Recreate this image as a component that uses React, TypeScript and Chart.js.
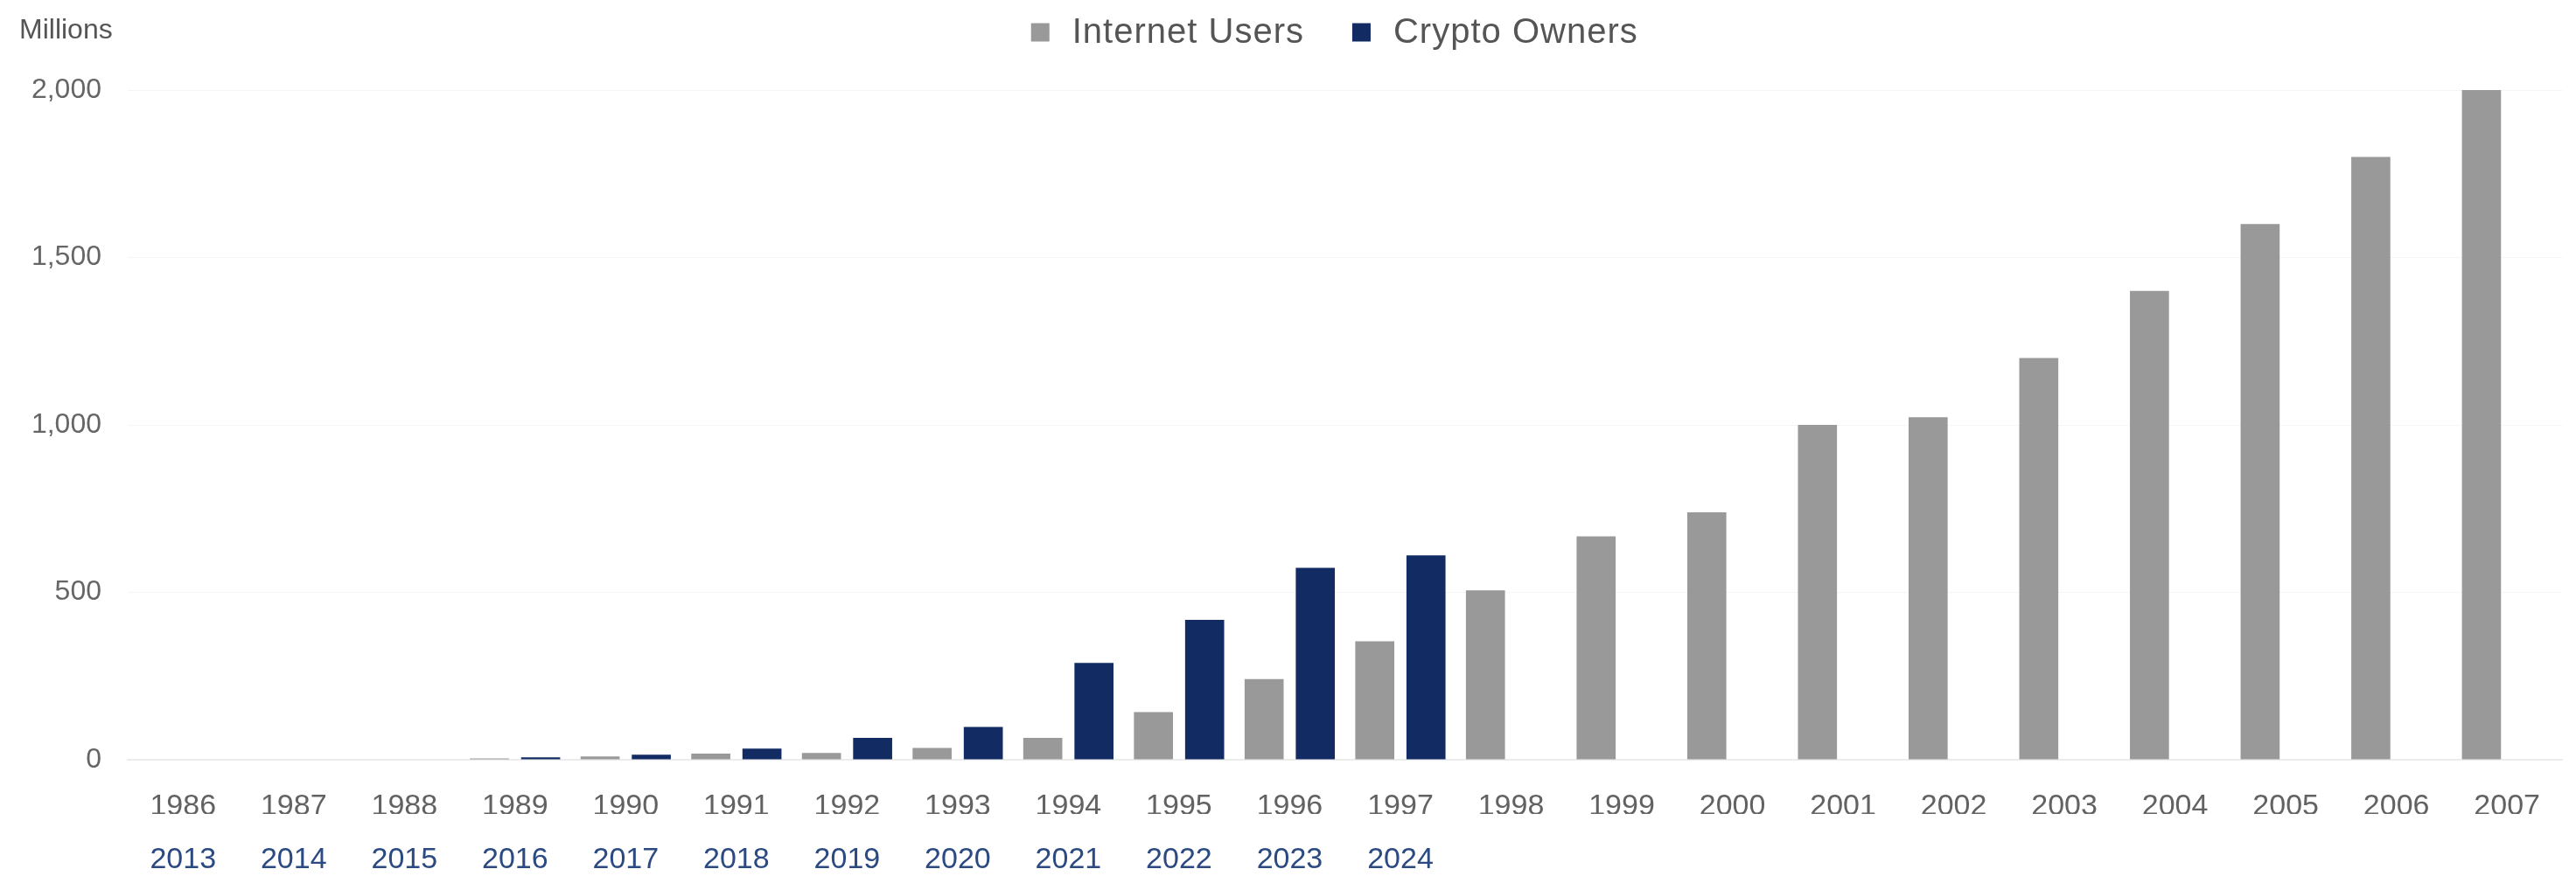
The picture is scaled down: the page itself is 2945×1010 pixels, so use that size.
import React, { useEffect, useRef } from "react";
import { Chart, registerables } from "chart.js";

Chart.register(...registerables);

const internetYears = [
  "1986", "1987", "1988", "1989", "1990", "1991", "1992", "1993", "1994", "1995", "1996",
  "1997", "1998", "1999", "2000", "2001", "2002", "2003", "2004", "2005", "2006", "2007",
];
const cryptoYears = [
  "2013", "2014", "2015", "2016", "2017", "2018", "2019", "2020", "2021", "2022", "2023",
  "2024", "", "", "", "", "", "", "", "", "", "",
];
const internetUsers = [
  0, 0, 1, 4, 10, 18, 20, 35, 65, 142, 241,
  354, 506, 667, 739, 1000, 1023, 1200, 1400, 1600, 1800, 2000,
];
const cryptoOwners = [
  0, 0, 1, 7, 15, 33, 65, 98, 289, 418, 573,
  610, null, null, null, null, null, null, null, null, null, null,
];
const seriesNames = ["Internet Users", "Crypto Owners"];
const yMax = 2000;
const yStep = 500;
const unitLabel = "Millions";

const GRAY = "#999999";
const NAVY = "#122c63";
const FONT = "'Liberation Sans', Arial, sans-serif";

export default function App() {
  const ref = useRef<HTMLCanvasElement | null>(null);

  useEffect(() => {
    if (!ref.current) return;
    const headerPlugin = {
      id: "header",
      afterDraw(chart: any) {
        const ctx = chart.ctx;
        ctx.save();
        // unit label
        ctx.font = `32px ${FONT}`;
        ctx.fillStyle = "#555555";
        ctx.textAlign = "left";
        ctx.textBaseline = "middle";
        ctx.fillText(unitLabel, 14, 27);

        // legend
        ctx.font = `40px ${FONT}`;
        try {
          (ctx as any).letterSpacing = "1px";
        } catch (e) {}
        const box = 21;
        const gapText = 26;
        const gapItem = 55;
        const cy = 29;
        const colors = chart.data.datasets.map((d: any) => d.backgroundColor);
        const widths = seriesNames.map((n) => ctx.measureText(n).width);
        let total = 0;
        widths.forEach((w: number, i: number) => {
          total += box + gapText + w + (i < widths.length - 1 ? gapItem : 0);
        });
        const ca = chart.chartArea;
        let x = (ca.left + ca.right) / 2 - total / 2 - 12;
        seriesNames.forEach((n, i) => {
          ctx.fillStyle = colors[i];
          ctx.fillRect(x, cy - box / 2, box, box);
          x += box + gapText;
          ctx.fillStyle = "#555555";
          ctx.textBaseline = "middle";
          ctx.fillText(n, x, cy + 1);
          x += widths[i] + gapItem;
        });
        ctx.restore();
      },
    };

    const chart = new Chart(ref.current, {
      type: "bar",
      data: {
        labels: internetYears,
        datasets: [
          {
            label: seriesNames[0],
            data: internetUsers,
            backgroundColor: GRAY,
            categoryPercentage: 0.925,
            barPercentage: 0.763,
          },
          {
            label: seriesNames[1],
            data: cryptoOwners as any,
            backgroundColor: NAVY,
            categoryPercentage: 0.925,
            barPercentage: 0.763,
          },
        ],
      },
      options: {
        animation: false,
        responsive: true,
        maintainAspectRatio: false,
        layout: { padding: { top: 95, right: 0, bottom: 0, left: 0 } },
        plugins: {
          tooltip: { enabled: false },
          legend: { display: false },
        },
        scales: {
          x: {
            type: "category",
            position: "bottom",
            grid: { display: false, drawTicks: false },
            border: { display: true, color: "#ececec", width: 2 },
            afterFit(scale: any) {
              scale.height = 62;
            },
            ticks: {
              color: "#626262",
              padding: 33,
              maxRotation: 0,
              autoSkip: false,
              font: { family: FONT, size: 34 },
            },
          },
          x2: {
            type: "category",
            position: "bottom",
            labels: cryptoYears,
            grid: { display: false, drawTicks: false },
            border: { display: false },
            afterFit(scale: any) {
              scale.height = 71;
            },
            ticks: {
              color: "#2b4a82",
              padding: 32,
              maxRotation: 0,
              autoSkip: false,
              font: { family: FONT, size: 34 },
            },
          },
          y: {
            min: 0,
            max: yMax,
            grid: { color: "rgba(0,0,0,0.04)", drawTicks: false },
            border: { display: false },
            afterFit(scale: any) {
              scale.width = 138;
            },
            ticks: {
              stepSize: yStep,
              padding: 30,
              color: "#666666",
              font: { family: FONT, size: 32 },
              callback: (v: any) => Number(v).toLocaleString("en-US"),
            },
          },
        },
      },
      plugins: [headerPlugin],
    });
    return () => chart.destroy();
  }, []);

  return (
    <div style={{ width: 2929, height: 994, position: "relative" }}>
      <canvas ref={ref} />
    </div>
  );
}
